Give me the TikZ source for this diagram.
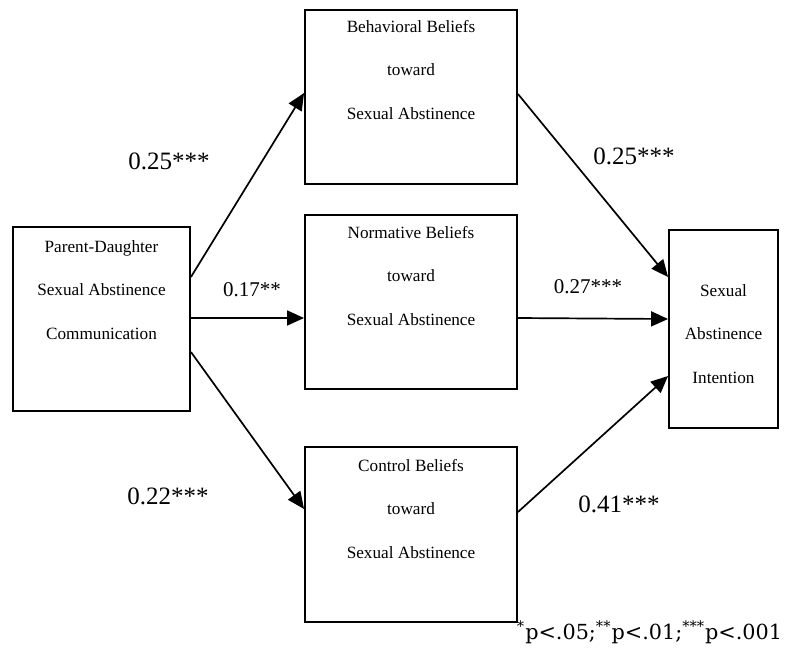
\documentclass[tikz,border=0pt]{standalone}
\usepackage{fontspec}
\setmainfont{Liberation Serif}
\newfontfamily\notefont{DejaVu Serif}
\usetikzlibrary{arrows.meta}
\begin{document}
\begin{tikzpicture}[x=1pt,y=-1pt,
  boxnode/.style={draw,line width=1.9pt,inner sep=0pt},
  boxtext/.style={align=center,font=\fontsize{17.2}{43.5}\selectfont},
  bigval/.style={font=\fontsize{25}{30}\selectfont},
  smallval/.style={font=\fontsize{21}{25}\selectfont},
  conn/.style={line width=1.7pt,-{Triangle[length=17pt,width=15pt]}}]
\useasboundingbox (0,0) rectangle (786,654);
\node[boxnode,minimum width=177pt,minimum height=184pt] (pd) at (101.5,319) {};
\node[boxnode,minimum width=212pt,minimum height=174pt] (bb) at (411,97) {};
\node[boxnode,minimum width=212pt,minimum height=174pt] (nb) at (411,302) {};
\node[boxnode,minimum width=212pt,minimum height=175pt] (cb) at (411,534.5) {};
\node[boxnode,minimum width=109pt,minimum height=198pt] (sai) at (723.5,329) {};
\node[boxtext] (pdt) at (101.5,290) {Parent-Daughter\\Sexual Abstinence\\Communication};
\node[boxtext] (bbt) at (411,70) {Behavioral Beliefs\\toward\\Sexual Abstinence};
\node[boxtext] (nbt) at (411,276) {Normative Beliefs\\toward\\Sexual Abstinence};
\node[boxtext] (cbt) at (411,509) {Control Beliefs\\toward\\Sexual Abstinence};
\node[boxtext] (sait) at (723.5,334) {Sexual\\Abstinence\\Intention};
\draw[conn] ([yshift=42pt]pd.east) -- ([yshift=4pt]bb.west);
\draw[conn] ([yshift=1pt]pd.east) -- ([yshift=-16pt]nb.west);
\draw[conn] ([yshift=-33pt]pd.east) -- ([yshift=25.5pt]cb.west);
\draw[conn] ([yshift=3pt]bb.east) -- ([yshift=52pt]sai.west);
\draw[conn] ([yshift=-16pt]nb.east) -- ([yshift=10pt]sai.west);
\draw[conn] ([yshift=22.5pt]cb.east) -- ([yshift=-47pt]sai.west);
\node[bigval] (l1) at (169,161) {0.25***};
\node[smallval] (l2) at (252,290) {0.17**};
\node[bigval] (l3) at (168,496) {0.22***};
\node[bigval] (l4) at (634,156) {0.25***};
\node[smallval] (l5) at (588,287) {0.27***};
\node[bigval] (l6) at (619,504) {0.41***};
\node (note) at (649.5,632) {\resizebox{265pt}{!}{\notefont\textsuperscript{*}p<.05;\textsuperscript{**}p<.01;\textsuperscript{***}p<.001}};
\end{tikzpicture}
\end{document}
